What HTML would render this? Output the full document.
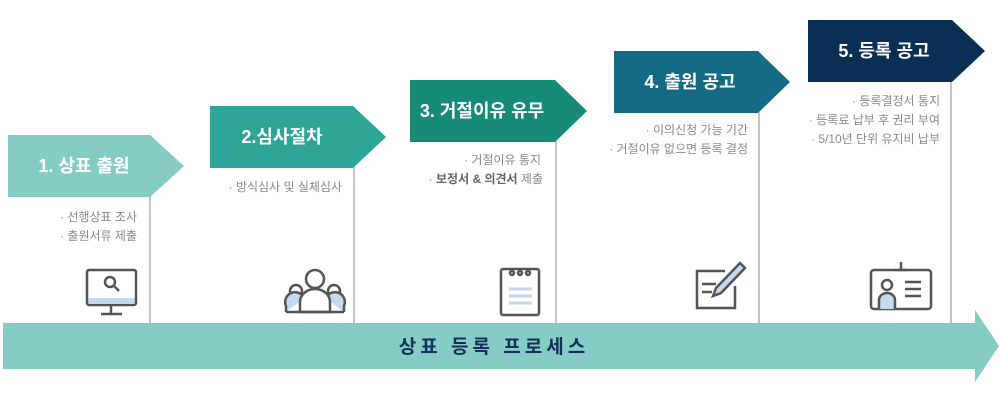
<!DOCTYPE html>
<html><head><meta charset="utf-8"><style>
html,body{margin:0;padding:0;background:#fff;width:1000px;height:400px;overflow:hidden}
svg{display:block}
text{font-family:"Liberation Sans","Noto Sans CJK KR",sans-serif}
.t{fill:#fff;font-weight:bold;font-size:18px}
.s{fill:#8a8a8a;font-size:12px;text-anchor:end}
</style></head><body>
<svg width="1000" height="400" viewBox="0 0 1000 400">
<g stroke="#c4c4c4" stroke-width="2">
<line x1="150" y1="196" x2="150" y2="323"/>
<line x1="354" y1="167" x2="354" y2="323"/>
<line x1="556" y1="141" x2="556" y2="323"/>
<line x1="759" y1="112" x2="759" y2="323"/>
<line x1="951" y1="82" x2="951" y2="323"/>
</g>
<polygon points="8,135 150,135 184,166 150,197 8,197" fill="#84ccc4"/>
<polygon points="210,106 353,106 386,137 353,168 210,168" fill="#2ea597"/>
<polygon points="410,80 555,80 587,111 555,142 410,142" fill="#178a78"/>
<polygon points="614,51 758,51 790,82 758,113 614,113" fill="#166b84"/>
<polygon points="808,20 952,20 985,51 952,82 808,82" fill="#0a2f55"/>
<text class="t" x="84" y="172" text-anchor="middle">1. 상표 출원</text>
<text class="t" x="282" y="143" text-anchor="middle">2.심사절차</text>
<text class="t" x="482" y="117" text-anchor="middle">3. 거절이유 유무</text>
<text class="t" x="690" y="88" text-anchor="middle">4. 출원 공고</text>
<text class="t" x="884" y="57" text-anchor="middle">5. 등록 공고</text>
<text class="s" x="137" y="221">· 선행상표 조사</text>
<text class="s" x="137" y="240">· 출원서류 제출</text>
<text class="s" x="342" y="191">· 방식심사 및 실체심사</text>
<text class="s" x="541" y="164">· 거절이유 통지</text>
<text class="s" x="543" y="183">· <tspan font-weight="bold" fill="#666">보정서 &amp; 의견서</tspan> 제출</text>
<text class="s" x="748" y="134">· 이의신청 가능 기간</text>
<text class="s" x="748" y="153">· 거절이유 없으면 등록 결정</text>
<text class="s" x="940" y="105">· 등록결정서 통지</text>
<text class="s" x="940" y="124">· 등록료 납부 후 권리 부여</text>
<text class="s" x="940" y="143">· 5/10년 단위 유지비 납부</text>
<polygon points="3,323 975,323 975,310 999,346 975,382 975,369 3,369" fill="#84ccc4"/>
<text x="494" y="353" text-anchor="middle" font-size="19" font-weight="bold" fill="#14305a" letter-spacing="4">상표 등록 프로세스</text>
<g fill="none" stroke="#555" stroke-width="2.5">
<rect x="87" y="270" width="49" height="35" rx="2"/>
<rect x="88.5" y="298" width="46" height="6" fill="#c5d9f0" stroke="none"/>
<line x1="111" y1="306" x2="111" y2="313"/><line x1="101" y1="314" x2="122" y2="314"/>
<circle cx="110" cy="282" r="5"/><line x1="114" y1="286" x2="119" y2="291"/>
<circle cx="315" cy="279" r="9"/>
<circle cx="296" cy="291" r="6"/><circle cx="334" cy="291" r="6"/>
<path d="M286,312 v-6 a9,9 0 0 1 18,-8" fill="#c5d9f0"/>
<path d="M344,312 v-6 a9,9 0 0 0 -18,-8" fill="#c5d9f0"/>
<path d="M300,312 v-10 a15,13 0 0 1 30,0 v10 z" fill="#fff"/>
<line x1="286" y1="312" x2="344" y2="312"/>
<rect x="501" y="269" width="38" height="46" rx="2"/>
<circle cx="512" cy="273" r="2"/><circle cx="520" cy="273" r="2"/><circle cx="528" cy="273" r="2"/>
<g stroke="#c5d9f0" stroke-width="3"><line x1="509" y1="289" x2="532" y2="289"/><line x1="509" y1="296" x2="532" y2="296"/><line x1="509" y1="303" x2="532" y2="303"/></g>
<path d="M725,271 h-28 v37 h38 v-22"/>
<line x1="702" y1="284" x2="716" y2="284"/><line x1="702" y1="292" x2="712" y2="292"/>
<path d="M740,263 l5,5 l-24,25 l-8,3 l3,-8 z" fill="#c5d9f0"/>
<rect x="871" y="270" width="60" height="39" rx="3"/>
<line x1="901" y1="262" x2="901" y2="270"/><line x1="895" y1="270" x2="907" y2="270"/>
<circle cx="887" cy="285" r="5"/>
<path d="M879,309 v-9 a8,7 0 0 1 16,0 v9" fill="#c5d9f0"/>
<line x1="905" y1="282" x2="921" y2="282"/><line x1="905" y1="289" x2="921" y2="289"/><line x1="905" y1="296" x2="921" y2="296"/>
</g>
</svg>
</body></html>
